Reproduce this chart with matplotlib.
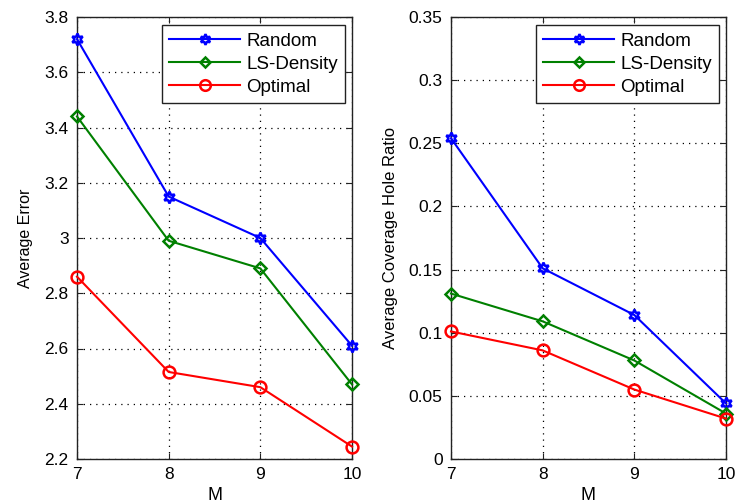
import matplotlib
matplotlib.use("Agg")
import matplotlib.pyplot as plt

M = [7, 8, 9, 10]
err_random = [3.72, 3.15, 3.00, 2.61]
err_ls = [3.44, 2.99, 2.89, 2.47]
err_opt = [2.86, 2.515, 2.46, 2.245]

hole_random = [0.254, 0.151, 0.114, 0.044]
hole_ls = [0.131, 0.109, 0.078, 0.036]
hole_opt = [0.101, 0.086, 0.055, 0.032]

labels = ["Random", "LS-Density", "Optimal"]
colors = ["#0000ff", "#008000", "#ff0000"]
markers = [(6, 1, 0), "D", "o"]
msizes = [8.5, 6, 8.5]

plt.rcParams['font.family'] = ['Liberation Sans', 'DejaVu Sans']

fig = plt.figure(figsize=(7.35, 5.04), dpi=100)
ax1 = fig.add_axes([77/735, 45/504, 275/735, 442/504])
ax2 = fig.add_axes([451/735, 45/504, 275/735, 442/504])

def style(ax, yticks, ylabels, ylim, ylabel, ylsize):
    ax.set_xlim(7, 10)
    ax.set_ylim(*ylim)
    ax.set_xticks(M)
    ax.set_xticklabels([str(m) for m in M])
    ax.set_yticks(yticks)
    ax.set_yticklabels(ylabels)
    ax.grid(True, linestyle=(0, (1, 4)), color='black', linewidth=0.9)
    ax.tick_params(direction='in', length=4, labelsize=12.5, color='#222222', pad=6,
                   top=True, right=True)
    for s in ax.spines.values():
        s.set_linewidth(1.0)
        s.set_color('#222222')
    ax.set_xlabel("M", fontsize=13, labelpad=3)
    ax.set_ylabel(ylabel, fontsize=ylsize, labelpad=8)

series1 = [err_random, err_ls, err_opt]
series2 = [hole_random, hole_ls, hole_opt]
for ax, series in [(ax1, series1), (ax2, series2)]:
    for vals, lab, c, mk, ms in zip(series, labels, colors, markers, msizes):
        ax.plot(M, vals, color=c, marker=mk, markersize=ms, markerfacecolor='none',
                markeredgecolor=c, markeredgewidth=1.8, linewidth=1.5, label=lab,
                clip_on=False, zorder=3)

style(ax1, [2.2, 2.4, 2.6, 2.8, 3.0, 3.2, 3.4, 3.6, 3.8],
      ["2.2", "2.4", "2.6", "2.8", "3", "3.2", "3.4", "3.6", "3.8"],
      (2.2, 3.8), "Average Error", 11.5)
style(ax2, [0, 0.05, 0.1, 0.15, 0.2, 0.25, 0.3, 0.35],
      ["0", "0.05", "0.1", "0.15", "0.2", "0.25", "0.3", "0.35"],
      (0, 0.35), "Average Coverage Hole Ratio", 12)

for ax in (ax1, ax2):
    leg = ax.legend(loc='upper right', fontsize=13.5, frameon=True, fancybox=False,
                    edgecolor='#222222', framealpha=1, borderpad=0.4,
                    handlelength=3.8, labelspacing=0.32, handletextpad=0.3,
                    borderaxespad=0.0, markerscale=0.9,
                    bbox_to_anchor=(0.975, 0.982))
    leg.get_frame().set_linewidth(1.0)

fig.savefig("out.png", dpi=100)
